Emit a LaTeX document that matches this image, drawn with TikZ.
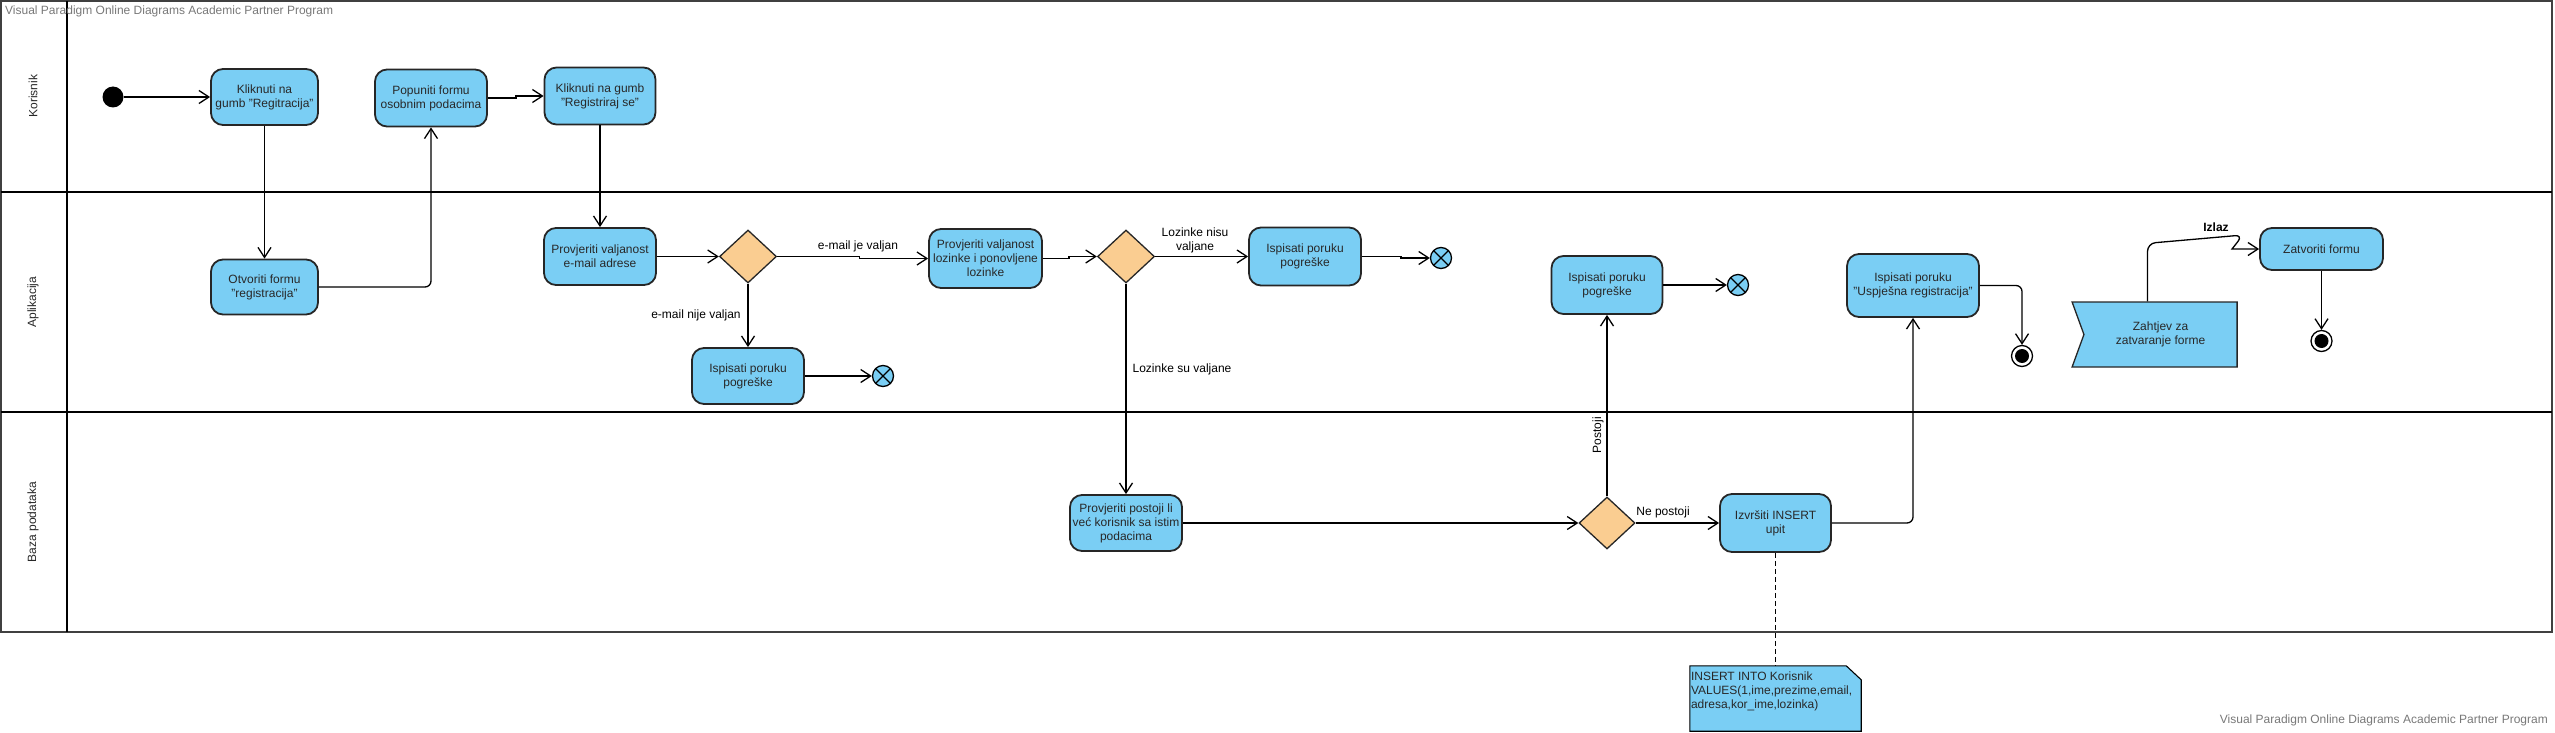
\documentclass[tikz,border=0pt]{standalone}
\usepackage{fontspec}
\setmainfont{Liberation Sans}
\usetikzlibrary{arrows.meta,shapes.geometric,shapes.symbols}
\definecolor{actblue}{RGB}{122,206,244}
\definecolor{decorange}{RGB}{250,205,145}
\definecolor{wmgray}{RGB}{120,120,120}
\definecolor{textgray}{RGB}{40,40,40}
\tikzset{
    action/.style={draw=black!85, line width=1.8pt, fill=actblue, rounded corners=12pt,
        align=center, text=textgray, inner sep=0pt},
    decision/.style={diamond, draw=black!85, line width=1.3pt, fill=decorange,
        inner sep=0pt, minimum width=57pt, minimum height=53pt},
    flow/.style={line width=1.3pt, -{Straight Barb[length=10pt,width=13pt]}},
    guard/.style={inner sep=0pt, align=center},
    lanelabel/.style={rotate=90, inner sep=0pt, text=textgray},
    lane/.style={line width=2.6pt},
    initnode/.style={circle, fill=black, minimum size=21pt, inner sep=0pt},
    finalnode/.style={circle, draw=black, line width=1.3pt, fill=white,
        minimum size=21pt, inner sep=0pt,
        path picture={\fill[black] (path picture bounding box.center) circle (7pt);}},
    flowfinal/.style={circle, draw=black, line width=1.3pt, fill=actblue,
        minimum size=21pt, inner sep=0pt,
        path picture={\draw[line width=1.1pt]
            (path picture bounding box.north west) -- (path picture bounding box.south east)
            (path picture bounding box.north east) -- (path picture bounding box.south west);}},
    eventbox/.style={signal, signal from=west, signal to=nowhere, signal pointer angle=140,
        draw=black!85, line width=1.3pt, fill=actblue, align=center, text=textgray,
        minimum width=165pt, minimum height=65pt, inner sep=0pt},
    notebox/.style={inner sep=0pt, minimum width=171pt, minimum height=65pt},
    notetext/.style={inner sep=0pt, align=left, anchor=north west, text=textgray},
    watermark/.style={inner sep=0pt, text=wmgray},
}
\begin{document}
\begin{tikzpicture}[x=1pt,y=-1pt]
                \useasboundingbox (0,0) rectangle (2555,733);
                {\fontsize{12}{14}\selectfont

                % Drawing frame and lanes
                \draw [line width=2pt, draw=black!75] (1,1) rectangle (2552,632);%
                \draw [lane] (1,192) -- (2552,192);%
                \draw [lane] (1,412) -- (2552,412);%
                \draw [lane] (67,1) -- (67,632);%
                \node [lanelabel] (lk) at (33,96) {Korisnik};%
                \node [lanelabel] (la) at (33,302) {Aplikacija};%
                \node [lanelabel] (lb) at (33,522) {Baza podataka};%

                % Marking watermarks
                \node [watermark, anchor=west] (wmt) at (5,11) {Visual Paradigm Online Diagrams Academic Partner Program};%
                \node [watermark, anchor=east] (wmb) at (2548,720) {Visual Paradigm Online Diagrams Academic Partner Program};%

                % Drawing lane Korisnik
                \node [initnode] (start) at (113,97) {};%
                \node [action, minimum width=107pt, minimum height=56pt] (kg) at (264.5,97) {Kliknuti na\\gumb "Regitracija"};%
                \node [action, minimum width=112pt, minimum height=57pt] (pf) at (431,98) {Popuniti formu\\osobnim podacima};%
                \node [action, minimum width=111pt, minimum height=57pt] (kr) at (600,96) {Kliknuti na gumb\\"Registriraj se"};%

                % Drawing lane Aplikacija
                \node [action, minimum width=107pt, minimum height=55pt] (of) at (264.5,287) {Otvoriti formu\\"registracija"};%
                \node [action, minimum width=112pt, minimum height=57pt] (pe) at (600,256.5) {Provjeriti valjanost\\e-mail adrese};%
                \node [decision] (d1) at (748,256.5) {};%
                \node [action, minimum width=113pt, minimum height=59pt] (pl) at (985.5,258.5) {Provjeriti valjanost\\lozinke i ponovljene\\lozinke};%
                \node [decision] (d2) at (1126,256.5) {};%
                \node [action, minimum width=112pt, minimum height=58pt] (ip1) at (1305,256.5) {Ispisati poruku\\pogreške};%
                \node [flowfinal] (fe1) at (1441,258) {};%
                \node [action, minimum width=112pt, minimum height=56pt] (ip2) at (748,376) {Ispisati poruku\\pogreške};%
                \node [flowfinal] (fe2) at (883,376) {};%
                \node [action, minimum width=111pt, minimum height=58pt] (ip3) at (1607,285) {Ispisati poruku\\pogreške};%
                \node [flowfinal] (fe3) at (1738,285) {};%
                \node [action, minimum width=132pt, minimum height=63pt] (us) at (1913,285.5) {Ispisati poruku\\"Uspješna registracija"};%
                \node [finalnode] (ff1) at (2022,356) {};%
                \node [eventbox] (zz) at (2160.5,334.5) {Zahtjev za\\zatvaranje forme};%
                \node [action, minimum width=123pt, minimum height=42pt] (zt) at (2321.5,249) {Zatvoriti formu};%
                \node [finalnode] (ff2) at (2321.5,341) {};%

                % Drawing lane Baza podataka
                \node [action, minimum width=112pt, minimum height=56pt] (pp) at (1126,523) {Provjeriti postoji li\\već korisnik sa istim\\podacima};%
                \node [decision, minimum width=56pt, minimum height=52pt] (d3) at (1607,523) {};%
                \node [action, minimum width=111pt, minimum height=58pt] (iz) at (1775.5,523) {Izvršiti INSERT\\upit};%

                % Drawing note
                \node [notebox] (nt) at (1775.5,698.5) {};%
                \draw [line width=1.1pt, fill=actblue] (nt.north west) -- ([xshift=-15pt]nt.north east) -- ([yshift=-14pt]nt.north east) -- (nt.south east) -- (nt.south west) -- cycle;%
                \node [notetext] (ntx) at ([xshift=1pt,yshift=-6pt]nt.north west) {INSERT INTO Korisnik\\VALUES(1,ime,prezime,email,\\adresa,kor\_ime,lozinka)};%
                \draw [line width=1pt, dash pattern=on 5pt off 3pt] (iz) -- (nt);%

                % Drawing flows
                \draw [flow] (start) -- (kg);%
                \draw [flow] (kg) -- (of);%
                \draw [flow, rounded corners=6pt] (of.east) -| (pf.south);%
                \draw [flow] (pf.east) -- ++(28,0) |- (kr.west);%
                \draw [flow] (kr) -- (pe);%
                \draw [flow] (pe) -- (d1);%
                \draw [flow] (d1.east) -- ++(82,0) |- (pl.west);%
                \draw [flow] (d1) -- (ip2);%
                \draw [flow] (ip2) -- (fe2);%
                \draw [flow] (pl.east) -- ++(26,0) |- (d2.west);%
                \draw [flow] (d2) -- (ip1);%
                \draw [flow] (ip1.east) -- ++(39,0) |- (fe1.west);%
                \draw [flow] (d2) -- (pp);%
                \draw [flow] (pp) -- (d3);%
                \draw [flow] (d3) -- (iz);%
                \draw [flow] (d3) -- (ip3);%
                \draw [flow] (ip3) -- (fe3);%
                \draw [flow, rounded corners=6pt] (iz.east) -| (us.south);%
                \draw [flow, rounded corners=6pt] (us.east) -| (ff1.north);%
                \draw [flow] (zt) -- (ff2);%

                % Drawing interrupting flow Izlaz
                \coordinate (izl0) at ([xshift=-13pt]zz.north);%
                \coordinate (izlA) at (2243,235);%
                \coordinate (izlB) at (2232,249);%
                \draw [flow] (izl0) [rounded corners=8pt] -- ++(0,-58) -- (izlA) [sharp corners] -- (izlB) -- (zt.west);%

                % Marking guards
                \node [guard] (gev) at (858,246) {e-mail je valjan};%
                \node [guard] (genv) at (696,315) {e-mail nije valjan};%
                \node [guard] (glnv) at (1195,240) {Lozinke nisu\\valjane};%
                \node [guard] (glv) at (1182,369) {Lozinke su valjane};%
                \node [guard] (gnp) at (1663,512) {Ne postoji};%
                \node [guard, rotate=90] (gpo) at (1598,435) {Postoji};%
                \node [guard, font=\bfseries] (giz) at (2216,227) {Izlaz};%
                }
\end{tikzpicture}
\end{document}
